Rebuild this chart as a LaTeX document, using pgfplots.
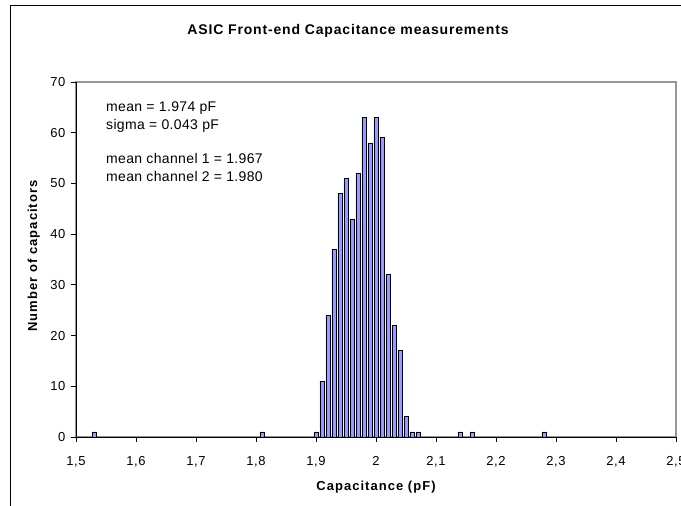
\documentclass[border=0pt]{standalone}
\usepackage{pgfplots}
\pgfplotsset{compat=1.18}
\usepackage{fontspec}
\setmainfont{Liberation Sans}
\newfontfamily\titlefont[LetterSpace=6]{Liberation Sans}
\newfontfamily\labelfont[LetterSpace=8]{Liberation Sans}
\newfontfamily\tickfont[LetterSpace=5]{Liberation Sans}
\newfontfamily\notefont[LetterSpace=2.5]{Liberation Sans}
\definecolor{barblue}{RGB}{153,153,255}
\definecolor{boxgray}{RGB}{150,150,150}
\pgfplotstableread{
x y
1.53 1
1.81 1
1.90 1
1.91 11
1.92 24
1.93 37
1.94 48
1.95 51
1.96 43
1.97 52
1.98 63
1.99 58
2.00 63
2.01 59
2.02 32
2.03 22
2.04 17
2.05 4
2.06 1
2.07 1
2.14 1
2.16 1
2.28 1
}\captable
\begin{document}
\begin{tikzpicture}[x=1pt,y=1pt]
\draw[black, line width=0.8pt] (10,-20) rectangle (720,501);
\begin{axis}[
  at={(76pt,69pt)}, anchor=south west,
  scale only axis, width=600pt, height=355pt,
  xmin=1.5, xmax=2.5, ymin=0, ymax=70,
  enlargelimits=false,
  axis lines=left,
  axis line style={-, black, line width=0.8pt},
  axis background/.style={draw=boxgray, line width=1.2pt},
  tick align=outside,
  major tick length=5pt,
  tick style={black, line width=0.8pt},
  xtick={1.5,1.6,1.7,1.8,1.9,2.0,2.1,2.2,2.3,2.4,2.5},
  xticklabels={{1,5},{1,6},{1,7},{1,8},{1,9},{2},{2,1},{2,2},{2,3},{2,4},{2,5}},
  ytick={0,10,20,30,40,50,60,70},
  /pgf/number format/assume math mode=true,
  ticklabel style={font=\tickfont\fontsize{13}{15}\selectfont},
  xticklabel style={yshift=-11pt},
  yticklabel style={xshift=-2pt},
  ybar, bar width=0.0068,
]
\addplot[fill=barblue, draw=black, line width=0.7pt] table[x=x,y=y]{\captable};
\end{axis}
\node[font=\titlefont\bfseries\fontsize{14}{16}\selectfont, anchor=base] at (348,471) {ASIC Front-end Capacitance measurements};
\node[font=\labelfont\bfseries\fontsize{13}{15}\selectfont, anchor=base] at (376,15) {Capacitance (pF)};
\node[font=\labelfont\bfseries\fontsize{13}{15}\selectfont, anchor=base, rotate=90] at (37,250) {Number of capacitors};
\begin{scope}[every node/.style={font=\notefont\fontsize{14}{16}\selectfont, anchor=base west, inner sep=0pt}]
\node at (106,394) {mean = 1.974 pF};
\node at (106,376) {sigma = 0.043 pF};
\node at (106,342) {mean channel 1 = 1.967};
\node at (106,324) {mean channel 2 = 1.980};
\end{scope}
\pgfresetboundingbox
\useasboundingbox (0,0) rectangle (681,506);
\end{tikzpicture}
\end{document}
